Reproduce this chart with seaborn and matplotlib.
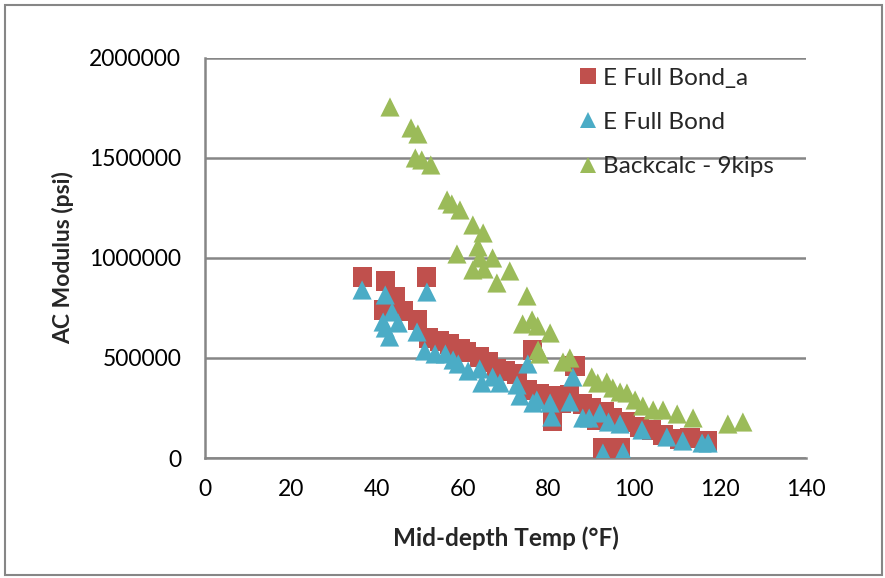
import matplotlib
matplotlib.use("Agg")
import matplotlib.pyplot as plt
import seaborn as sns
import pandas as pd
from matplotlib.patches import Rectangle

# ---- data (temperature °F, modulus psi) ----
red_T = [36.6, 42, 51.7, 44.3, 41.5, 46.2, 49.6, 52, 54.7, 57, 59.4, 61, 64, 66, 68, 70,
         72.7, 76.2, 75, 78, 81, 81, 83, 86.2, 85, 88, 90, 91.3, 92.7, 96.7, 93, 95, 98,
         101.3, 104, 106.7, 110.6, 113, 117]
red_E = [905000, 885000, 905000, 805000, 740000, 735000, 690000, 600000, 585000, 570000,
         545000, 530000, 505000, 480000, 445000, 435000, 420000, 540000, 340000, 320000,
         310000, 185000, 275000, 460000, 315000, 270000, 250000, 190000, 50000, 50000,
         230000, 200000, 180000, 155000, 140000, 115000, 95000, 100000, 85000]

blue_T = [36.6, 42, 51.7, 43.6, 41.5, 45, 42, 43, 49.4, 51.2, 53.6, 56, 57.8, 59, 61.3,
          64, 64.5, 67, 68.7, 72.7, 73.4, 76.4, 75.2, 85.7, 77.3, 80.4, 80.8, 85, 88, 89.5,
          92, 94, 92.7, 97.4, 96.7, 101.8, 107.6, 111.3, 115.8, 117.2]
blue_E = [840000, 815000, 830000, 730000, 680000, 675000, 650000, 605000, 630000, 535000,
          520000, 520000, 490000, 470000, 435000, 445000, 375000, 405000, 375000, 365000,
          310000, 275000, 470000, 405000, 290000, 275000, 205000, 280000, 200000, 200000,
          225000, 180000, 25000, 30000, 170000, 140000, 105000, 85000, 75000, 75000]

green_T = [43.1, 48.0, 49.6, 49, 50.5, 52.6, 56.4, 57.5, 59.4, 62.4, 64.8, 63.6, 58.7, 64,
           67, 62.4, 65, 71, 68, 75, 74, 76.2, 77.5, 80.4, 77.6, 78, 83.4, 85, 90.1, 91.5,
           93.6, 95, 96.7, 98.3, 100.2, 102, 104.4, 106.7, 110, 113.7, 121.8, 125.3]
green_E = [1755000, 1650000, 1620000, 1500000, 1490000, 1465000, 1290000, 1270000, 1240000,
           1165000, 1125000, 1055000, 1020000, 1000000, 1000000, 940000, 945000, 935000,
           875000, 810000, 670000, 690000, 660000, 625000, 540000, 520000, 480000, 500000,
           405000, 375000, 380000, 350000, 330000, 325000, 290000, 260000, 240000, 240000,
           220000, 200000, 170000, 180000]

series_names = ["E Full Bond_a", "E Full Bond", "Backcalc - 9kips"]
x_ticks = [0, 20, 40, 60, 80, 100, 120, 140]
y_ticks = [0, 500000, 1000000, 1500000, 2000000]

df = pd.concat([
    pd.DataFrame({"T": red_T, "E": red_E, "series": series_names[0]}),
    pd.DataFrame({"T": blue_T, "E": blue_E, "series": series_names[1]}),
    pd.DataFrame({"T": green_T, "E": green_E, "series": series_names[2]}),
], ignore_index=True)

sns.set_style("white")
plt.rcParams["font.family"] = ["Lato", "DejaVu Sans"]

fig = plt.figure(figsize=(8.85, 5.78), dpi=100)
ax = fig.add_axes([0.2316, 0.2076, 0.6791, 0.6921])

palette = {series_names[0]: "#C0504D", series_names[1]: "#4BACC6", series_names[2]: "#9BBB59"}
markers = {series_names[0]: "s", series_names[1]: "^", series_names[2]: "^"}

sns.scatterplot(data=df, x="T", y="E", hue="series", style="series",
                hue_order=series_names, style_order=series_names,
                palette=palette, markers=markers, s=190, linewidth=0,
                alpha=1, ax=ax, zorder=3)

ax.set_xlim(0, 140)
ax.set_ylim(0, 2000000)
ax.set_xticks(x_ticks)
ax.set_yticks(y_ticks)
ax.set_xticklabels([str(v) for v in x_ticks])
ax.set_yticklabels([str(v) for v in y_ticks])
ax.tick_params(axis="both", length=0, labelsize=16.5, colors="black")
ax.tick_params(axis="x", pad=15)
ax.tick_params(axis="y", pad=17)

ax.grid(axis="y", color="#868686", linewidth=1.8)
ax.grid(axis="x", visible=False)
ax.set_axisbelow(True)
for side in ["top", "right"]:
    ax.spines[side].set_visible(False)
for side in ["left", "bottom"]:
    ax.spines[side].set_color("#868686")
    ax.spines[side].set_linewidth(1.8)

ax.set_xlabel("Mid-depth Temp (°F)", fontsize=17.5, fontweight="bold", labelpad=19)
ax.set_ylabel("AC Modulus (psi)", fontsize=16.5, fontweight="bold", labelpad=11)

handles, labels = ax.get_legend_handles_labels()
leg = ax.legend(handles, labels, loc="upper left", bbox_to_anchor=(0.581, 1.03),
                frameon=False, fontsize=17.5, labelspacing=0.95, handletextpad=0.1,
                markerscale=0.85, handlelength=1.0)

fig.patches.append(Rectangle((0.0056, 0.005), 0.991, 0.986, transform=fig.transFigure,
                             fill=False, edgecolor="#868686", linewidth=1.5))

fig.savefig("out.png", dpi=100)
